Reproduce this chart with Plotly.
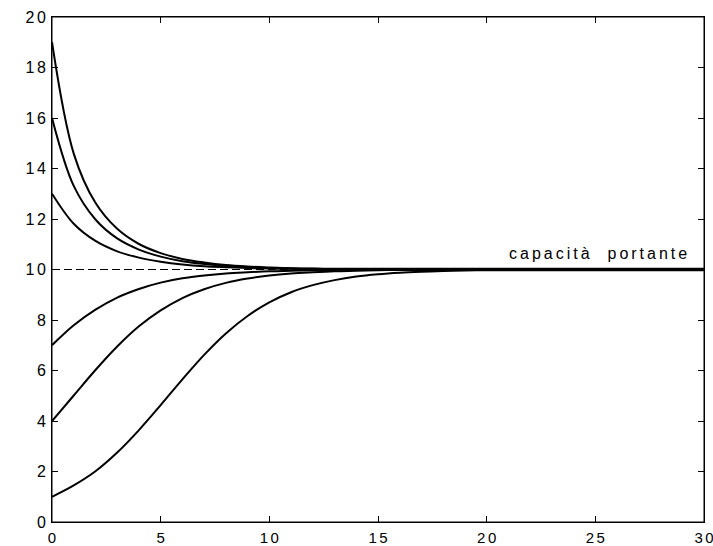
import plotly.graph_objects as go

# time axis (integer steps)
t_steps = list(range(31))

# population trajectories (one per starting value)
n_from_1 = [1.00, 1.45, 2.01, 2.75, 3.64, 4.63, 5.65, 6.62, 7.47, 8.16, 8.70,
            9.10, 9.38, 9.58, 9.72, 9.81, 9.87, 9.91, 9.94, 9.96, 9.97,
            9.97, 9.97, 9.97, 9.97, 9.97, 9.97, 9.97, 9.97, 9.97, 9.97]
n_from_4 = [4.00, 5.01, 6.02, 6.95, 7.75, 8.38, 8.87, 9.22, 9.47, 9.64, 9.76,
            9.84, 9.89, 9.93, 9.95, 9.97, 9.98, 9.98, 9.99, 9.99, 9.99,
            9.99, 9.99, 9.99, 9.99, 9.99, 9.99, 9.99, 9.99, 9.99, 9.99]
n_from_7 = [7.00, 7.79, 8.41, 8.89, 9.23, 9.48, 9.65, 9.76, 9.84, 9.89, 9.93,
            9.95, 9.97, 9.98, 9.99, 9.99, 9.99, 9.99, 9.99, 9.99, 9.99,
            9.99, 9.99, 9.99, 9.99, 9.99, 9.99, 9.99, 9.99, 9.99, 9.99]
n_from_13 = [13.00, 11.81, 11.13, 10.72, 10.47, 10.31, 10.20, 10.13, 10.09, 10.06, 10.04,
             10.03, 10.02, 10.02, 10.01, 10.01, 10.01, 10.01, 10.01, 10.01, 10.01,
             10.01, 10.01, 10.01, 10.01, 10.01, 10.01, 10.01, 10.01, 10.01, 10.01]
n_from_16 = [16.00, 13.31, 11.98, 11.23, 10.79, 10.51, 10.33, 10.22, 10.14, 10.09, 10.06,
             10.04, 10.03, 10.02, 10.02, 10.02, 10.02, 10.02, 10.02, 10.02, 10.02,
             10.02, 10.02, 10.02, 10.02, 10.02, 10.02, 10.02, 10.02, 10.02, 10.02]
n_from_19 = [19.00, 14.59, 12.64, 11.61, 11.01, 10.65, 10.42, 10.28, 10.18, 10.12, 10.08,
             10.05, 10.04, 10.03, 10.03, 10.03, 10.03, 10.03, 10.03, 10.03, 10.03,
             10.03, 10.03, 10.03, 10.03, 10.03, 10.03, 10.03, 10.03, 10.03, 10.03]

series = [n_from_1, n_from_4, n_from_7, n_from_13, n_from_16, n_from_19]

# carrying capacity reference line
capacity_x = [0, 30]
capacity_y = [10, 10]
capacity_label = "capacità  portante"
label_x = 25.1
label_y = 10.62

x_ticks = [0, 5, 10, 15, 20, 25, 30]
y_ticks = [0, 2, 4, 6, 8, 10, 12, 14, 16, 18, 20]

FONT = dict(family="Liberation Sans, Arial, sans-serif", size=16, color="black")
XFONT = dict(family="Liberation Sans, Arial, sans-serif", size=15, color="black")


def spaced(v, px=2.5):
    s = str(v)
    if len(s) < 2:
        return s
    return f'<span style="letter-spacing:{px}px">{s[:-1]}</span>{s[-1]}'


fig = go.Figure()
fig.add_trace(go.Scatter(x=capacity_x, y=capacity_y, mode="lines",
                         line=dict(color="black", width=1, dash="8px,4px"),
                         hoverinfo="skip", showlegend=False))
for s in series:
    fig.add_trace(go.Scatter(x=t_steps, y=s, mode="lines",
                             line=dict(color="black", width=2, shape="spline"),
                             showlegend=False))

fig.add_annotation(x=label_x, y=label_y, xref="x", yref="y",
                   text=f'<span style="letter-spacing:3px">{capacity_label[:-1]}</span>{capacity_label[-1]}',
                   showarrow=False, font=FONT, xanchor="center", yanchor="middle")

# frame around the plot area
fig.add_shape(type="rect", xref="paper", yref="paper", x0=0, y0=0, x1=1, y1=1,
              line=dict(color="black", width=1), fillcolor="rgba(0,0,0,0)", layer="above")

axis_common = dict(showline=True, linecolor="black", linewidth=1, mirror="ticks",
                   ticks="inside", ticklen=6, tickcolor="black", tickwidth=1,
                   showgrid=False, zeroline=False, tickmode="array",
                   automargin=False, ticklabeloverflow="allow")

fig.update_xaxes(range=[0, 30], tickvals=x_ticks,
                 ticktext=[spaced(v) for v in x_ticks], tickfont=XFONT,
                 ticklabelstandoff=2, **axis_common)
fig.update_yaxes(range=[0, 20], tickvals=y_ticks,
                 ticktext=[spaced(v) for v in y_ticks], tickfont=FONT,
                 ticklabelstandoff=2, **axis_common)

fig.update_layout(width=713, height=546,
                  margin=dict(l=52, r=9, t=17, b=24, pad=0),
                  paper_bgcolor="white", plot_bgcolor="white",
                  font=FONT, hovermode=False)

fig.write_html("out.html",
               config={"displayModeBar": False, "staticPlot": True},
               post_script="document.body.style.margin='0';document.body.style.overflow='hidden';")
